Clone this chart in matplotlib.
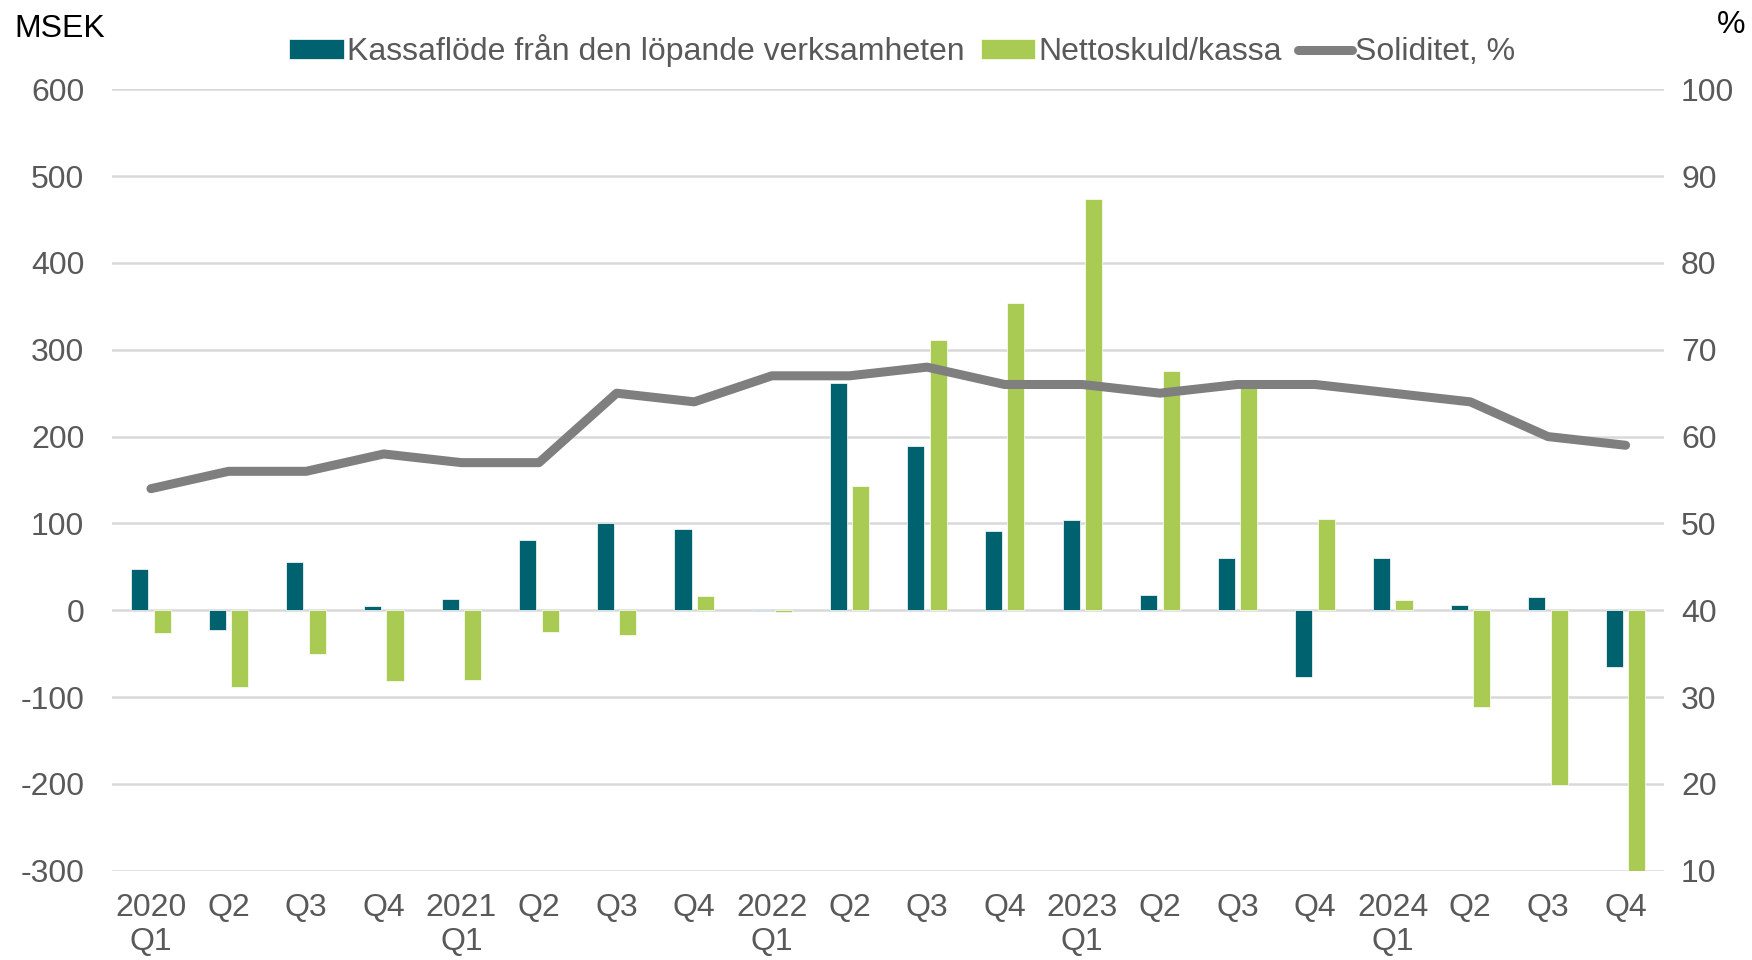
import numpy as np
import matplotlib.pyplot as plt

plt.rcParams['font.family'] = ['Liberation Sans', 'DejaVu Sans']
plt.rcParams['axes.unicode_minus'] = False

labels = ['2020\nQ1', 'Q2', 'Q3', 'Q4', '2021\nQ1', 'Q2', 'Q3', 'Q4',
          '2022\nQ1', 'Q2', 'Q3', 'Q4', '2023\nQ1', 'Q2', 'Q3', 'Q4',
          '2024\nQ1', 'Q2', 'Q3', 'Q4']
kassaflode = [48, -23, 55, 5, 13, 81, 101, 93, -1, 262, 189, 91, 104, 17, 60, -77, 60, 6, 15, -65]
nettoskuld = [-26, -88, -50, -81, -80, -25, -28, 16, -2, 143, 311, 354, 474, 275, 265, 105, 12, -112, -201, -300]
soliditet = [54, 56, 56, 58, 57, 57, 65, 64, 67, 67, 68, 66, 66, 65, 66, 66, 65, 64, 60, 59]

dark = '#00626F'
green = '#A9CA53'
gray_line = '#7F7F7F'
txt = '#595959'
fs = 23

fig = plt.figure(figsize=(17.52, 9.6), dpi=100)
ax = fig.add_axes([0.064, 0.093, 0.886, 0.814])
ax2 = ax.twinx()

x = np.arange(len(labels))
w = 0.22
ax.bar(x - 0.145, kassaflode, w, color=dark, edgecolor='white', linewidth=0.5,
       label='Kassaflöde från den löpande verksamheten', zorder=3)
ax.bar(x + 0.145, nettoskuld, w, color=green, edgecolor='white', linewidth=0.5,
       label='Nettoskuld/kassa', zorder=3)
ax2.plot(x, soliditet, color=gray_line, lw=6.5, solid_capstyle='round',
         label='Soliditet, %', zorder=4)

ax.set_xlim(-0.5, len(labels) - 0.5)
ax.set_ylim(-300, 600)
ax.set_yticks(range(-300, 601, 100))
ax2.set_ylim(10, 100)
ax2.set_yticks(range(10, 101, 10))

ax.yaxis.grid(True, color='#D9D9D9', lw=1.8, zorder=0)
ax.set_axisbelow(True)
for a in (ax, ax2):
    for s in a.spines.values():
        s.set_visible(False)

ax.set_xticks(x)
ax.set_xticklabels(labels, fontsize=fs, color=txt, linespacing=1.17)
ax.tick_params(axis='x', length=0, pad=16)
ax.tick_params(axis='y', length=0, pad=20, labelsize=fs, labelcolor=txt)
ax2.tick_params(axis='y', length=0, pad=12, labelsize=fs, labelcolor=txt)

fig.text(0.008, 0.97, 'MSEK', fontsize=fs, color='black', va='center', ha='left')
fig.text(0.996, 0.974, '%', fontsize=fs, color='black', va='center', ha='right')

h1, l1 = ax.get_legend_handles_labels()
h2, l2 = ax2.get_legend_handles_labels()
fig.legend(h1 + h2, l1 + l2, loc='center', bbox_to_anchor=(0.515, 0.947), ncol=3,
           frameon=False, fontsize=fs, labelcolor=txt, handlelength=1.7,
           handleheight=0.6, handletextpad=0.1, columnspacing=0.5)

fig.savefig('out.png', dpi=100)
